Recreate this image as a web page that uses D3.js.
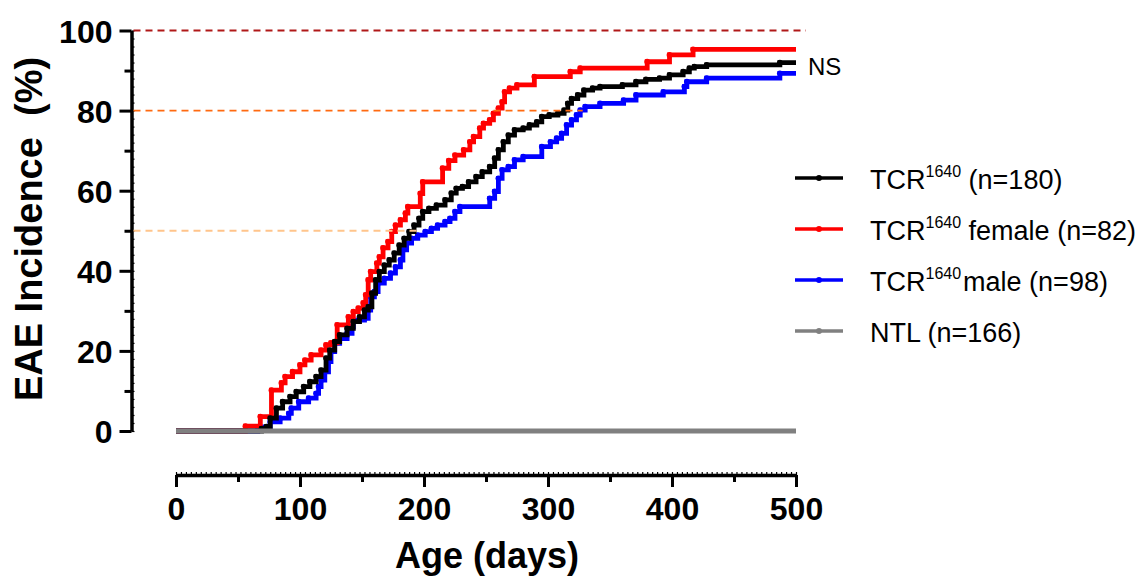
<!DOCTYPE html>
<html>
<head>
<meta charset="utf-8">
<script src="https://cdn.jsdelivr.net/npm/d3@7"></script>
<style>
  body { margin: 0; background: #fff; }
  svg text { font-family: "Liberation Sans", Arial, sans-serif; }
</style>
</head>
<body>
<div id="container"></div>
<script>
// change points: [age in days, EAE incidence %]
let tcrAll = [[0,0],[69,0.6],[73,1.1],[76,3.2],[81,5.7],[86,7.3],[92,8.6],[97,9.8],[103,11.1],[108,12.3],[113,13.6],[117,15.2],[121,18.2],[124,20.2],[128,22.3],[132,24],[138,25.6],[143,27.3],[148,28.5],[152,30.2],[155,31],[158,34.4],[161,37.7],[164,39.8],[168,41.4],[172,42.7],[176,44.4],[180,46.4],[184,48.1],[188,49.8],[192,51.4],[196,53.1],[199,54.8],[204,55.6],[210,56.4],[217,57.7],[222,59.4],[226,60.6],[231,61],[236,62.2],[242,63.5],[247,64.7],[253,66],[257,68.1],[260,70.2],[264,72.2],[268,73.9],[273,75.2],[280,75.6],[285,76.4],[291,77.2],[295,78.5],[301,78.9],[308,79.3],[313,80.1],[316,81.8],[319,83],[324,83.9],[329,85.1],[336,85.6],[342,86],[360,86.4],[371,87.2],[379,87.8],[390,88.1],[398,88.9],[409,89.7],[414,90.6],[418,91],[428,91.4],[487,92],[500,92]];
let tcrFemale = [[0,0],[56,1.2],[68,3.6],[77,10.2],[85,12],[88,13.6],[94,14.8],[100,16.5],[104,17.7],[109,19],[117,20.2],[121,21.5],[125,22],[130,26.5],[139,28.5],[143,29.8],[147,30.7],[151,32],[153,34],[155,37.7],[157,39.8],[162,41.9],[164,43.5],[167,45.7],[171,47.3],[174,49.8],[177,51.4],[181,52.7],[185,54.4],[187,56],[197,59.3],[199,62.2],[215,65.6],[220,67.5],[225,68.9],[232,70.2],[237,72.2],[240,73.5],[245,75.6],[248,76.8],[253,77.7],[256,79.3],[260,80.6],[263,82.2],[265,84.7],[269,85.6],[275,86.4],[289,88.5],[318,89.7],[326,90.6],[380,92.2],[398,93.9],[417,95.3],[500,95.3]];
let tcrMale = [[0,0],[66,1],[76,2.3],[84,3.2],[91,4.4],[93,5.7],[99,7.3],[107,8.2],[113,9.4],[115,11.1],[117,12.7],[120,14.8],[123,17.3],[125,19.8],[128,21.9],[132,23.1],[138,24.4],[142,26],[143,27.7],[152,28.1],[155,30.2],[157,33.5],[160,34.8],[163,36.9],[168,38.1],[173,39.4],[177,41],[181,42.7],[183,45.2],[186,46.9],[190,48.1],[195,48.9],[201,49.8],[206,50.6],[211,51.4],[217,52.3],[221,53.1],[225,54.8],[229,56],[253,58.1],[257,59.8],[260,63.1],[263,65.2],[268,66],[273,67.7],[280,68.5],[295,71],[302,72.2],[307,73.1],[311,74.3],[315,76.4],[319,77.7],[323,78.9],[326,80.1],[330,81],[342,81.8],[361,82.6],[371,83.9],[393,84.7],[410,86],[412,87.2],[428,88.1],[487,89.3],[500,89.3]];
let ntl = [[0,0],[500,0]];

let seriesLabels = [
  {main: "TCR", sup: "1640", rest: " (n=180)"},
  {main: "TCR", sup: "1640", rest: " female (n=82)"},
  {main: "TCR", sup: "1640", rest: "male (n=98)"},
  {main: "NTL (n=166)", sup: "", rest: ""}
];
let seriesColors = ["#000000", "#ff0000", "#0000ff", "#808080"];

let xTicks = [0, 100, 200, 300, 400, 500];
let yTicks = [0, 20, 40, 60, 80, 100];

// dashed reference levels (%) and the age where each one stops
let refLevels = [50, 80, 100];
let refEnds = [194, 328, 508];
let refColors = ["#ffc58c", "#ff6a10", "#b01818"];

let viz = d3.select("#container")
  .append("svg")
    .attr("width", 1146)
    .attr("height", 580)
;

let x = d3.scaleLinear().domain([0, 500]).range([176, 796]);
let y = d3.scaleLinear().domain([0, 100]).range([431, 30.5]);

// ---- y axis
let yAxis = viz.append("g").attr("transform", "translate(131.5,0)");
yAxis.call(d3.axisLeft(y).tickValues(yTicks).tickSize(12).tickPadding(7).tickSizeOuter(0));
yAxis.append("g").call(d3.axisLeft(y).tickValues([10, 30, 50, 70, 90]).tickSize(7).tickFormat(""));
yAxis.append("g").call(d3.axisRight(y).tickValues(d3.range(0, 101, 2)).tickSize(3).tickFormat(""));
yAxis.selectAll(".domain").attr("stroke-width", 3.5);
yAxis.selectAll(".tick line").attr("stroke-width", 3);
yAxis.selectAll("g g .domain").remove();

// ---- x axis
let xAxis = viz.append("g").attr("transform", "translate(0,475)");
xAxis.call(d3.axisBottom(x).tickValues(xTicks).tickSize(12).tickPadding(10).tickSizeOuter(0));
xAxis.append("g").call(d3.axisBottom(x).tickValues([50, 150, 250, 350, 450]).tickSize(7).tickFormat(""));
xAxis.append("g").call(d3.axisTop(x).tickValues(d3.range(0, 501, 4)).tickSize(3).tickFormat(""));
xAxis.selectAll(".domain").attr("stroke-width", 3.5);
xAxis.selectAll(".tick line").attr("stroke-width", 3);
xAxis.selectAll("g g .domain").remove();

// minor ticks are thin
yAxis.selectAll("g g:last-child .tick line").attr("stroke-width", 1.2);
xAxis.selectAll("g g:last-child .tick line").attr("stroke-width", 1.2);

viz.selectAll(".tick text")
  .style("font-family", "'Liberation Sans', Arial, sans-serif")
  .style("font-size", "32px")
  .style("font-weight", "bold")
  .attr("fill", "#000")
;
yAxis.selectAll(".tick text").attr("dy", "0.36em");

// ---- titles
viz.append("text")
  .attr("x", 487)
  .attr("y", 568)
  .attr("text-anchor", "middle")
  .style("font-size", "36px")
  .style("font-weight", "bold")
  .text("Age (days)")
;
viz.append("text")
  .attr("transform", "translate(42,229) rotate(-90)")
  .attr("text-anchor", "middle")
  .style("font-size", "38px")
  .style("font-weight", "bold")
  .attr("xml:space", "preserve")
  .text("EAE Incidence  (%)")
;

// ---- curves (NTL drawn last so it sits on top at 0 %)
let stepLine = d3.line()
  .x(function(d){ return x(d[0]); })
  .y(function(d){ return y(d[1]); })
  .curve(d3.curveStepAfter)
;

let allSeries = [tcrMale, tcrFemale, tcrAll, ntl];
let allColors = [seriesColors[2], seriesColors[1], seriesColors[0], seriesColors[3]];

let curves = viz.selectAll(".curve").data(allSeries).enter()
  .append("g")
    .attr("class", "curve")
;
curves.append("path")
  .attr("d", stepLine)
  .attr("fill", "none")
  .attr("stroke", function(d, i){ return allColors[i]; })
  .attr("stroke-width", 4.8)
;
curves.each(function(series, i){
  d3.select(this).selectAll("circle").data(series.slice(1, -1)).enter()
    .append("circle")
      .attr("cx", function(d){ return x(d[0]); })
      .attr("cy", function(d){ return y(d[1]); })
      .attr("r", 2.9)
      .attr("fill", allColors[i])
  ;
});

// ---- dashed reference lines
viz.selectAll(".refline").data(refLevels).enter()
  .append("line")
    .attr("class", "refline")
    .attr("x1", 133.5)
    .attr("x2", function(d, i){ return x(refEnds[i]); })
    .attr("y1", function(d){ return y(d); })
    .attr("y2", function(d){ return y(d); })
    .attr("stroke", function(d, i){ return refColors[i]; })
    .attr("stroke-width", 1.8)
    .attr("stroke-dasharray", "7,5")
;

// ---- NS label
viz.append("text")
  .attr("x", 808)
  .attr("y", 75)
  .style("font-size", "24px")
  .text("NS")
;

// ---- legend
let legend = viz.selectAll(".legend").data(seriesLabels).enter()
  .append("g")
    .attr("class", "legend")
    .attr("transform", function(d, i){ return "translate(795," + (178 + i * 51) + ")"; })
;
legend.append("line")
  .attr("x1", 0)
  .attr("x2", 48)
  .attr("stroke", function(d, i){ return seriesColors[i]; })
  .attr("stroke-width", 3.5)
;
legend.append("circle")
  .attr("cx", 24)
  .attr("r", 3)
  .attr("fill", function(d, i){ return seriesColors[i]; })
;
let legendText = legend.append("text")
  .attr("x", 75)
  .attr("y", 11)
  .style("font-size", "27px")
  .attr("xml:space", "preserve")
;
legendText.append("tspan").text(function(d){ return d.main; });
legendText.append("tspan")
  .style("font-size", "16px")
  .attr("dy", -12)
  .text(function(d){ return d.sup; })
;
legendText.append("tspan")
  .attr("dy", function(d){ return d.sup ? 12 : 0; })
  .attr("dx", function(d){ return d.rest[0] == " " ? 0 : 2; })
  .text(function(d){ return d.rest; })
;
</script>
</body>
</html>
